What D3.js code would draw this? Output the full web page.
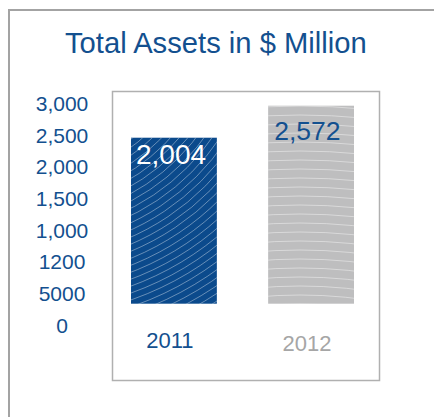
<!DOCTYPE html>
<html>
<head>
<meta charset="utf-8">
<script src="https://cdn.jsdelivr.net/npm/d3@7/dist/d3.min.js"></script>
<style>
  html, body { margin: 0; padding: 0; background: #fff; }
  svg { display: block; font-family: "Liberation Sans", Arial, sans-serif; }
</style>
</head>
<body>
<script>
// Chart data
const years = ["2011", "2012"];
const assets = [2004, 2572];
const assetLabels = ["2,004", "2,572"];
const tickLabels = ["3,000", "2,500", "2,000", "1,500", "1,000", "1200", "5000", "0"];
const title = "Total Assets in $ Million";

const W = 434, H = 417;
const blue = "#0b4a8c", textBlue = "#13508f", grey = "#bebebf", greyText = "#a6a6a6";

const svg = d3.select("body").append("svg").attr("width", W).attr("height", H);

// outer panel frame (top and left edges)
svg.append("path")
  .attr("d", `M9,${H} V10 H${W}`)
  .attr("fill", "none").attr("stroke", "#a3a3a3").attr("stroke-width", 2);

// title
svg.append("text")
  .attr("x", 65).attr("y", 53.3)
  .attr("fill", textBlue).attr("font-size", 29.2)
  .text(title);

// value-axis tick labels, evenly stacked
const tickY = d3.scalePoint().domain(tickLabels).range([111, 332.8]);
svg.append("g").selectAll("text").data(tickLabels).join("text")
  .attr("x", 62).attr("y", d => tickY(d))
  .attr("text-anchor", "middle")
  .attr("fill", textBlue).attr("font-size", 21)
  .text(d => d);

// inner plot box
svg.append("rect")
  .attr("x", 112.5).attr("y", 91.5).attr("width", 267).attr("height", 289)
  .attr("fill", "none").attr("stroke", "#b0b0b0").attr("stroke-width", 1.5);

// bar scales
const x = d3.scaleBand().domain(years).range([131, 354]).paddingInner(0.374).paddingOuter(0);
const y = d3.scaleLinear().domain([-942.5, 3000]).range([303.7, 81.6]);

const colors = [blue, grey];
const defs = svg.append("defs");

years.forEach((yr, i) => {
  const bx = x(yr), bw = x.bandwidth(), top = y(assets[i]), bottom = y.range()[0];
  const clipId = "clip" + yr;
  defs.append("clipPath").attr("id", clipId)
    .append("rect").attr("x", bx).attr("y", top).attr("width", bw).attr("height", bottom - top);

  const g = svg.append("g");
  g.append("rect")
    .attr("x", bx).attr("y", top).attr("width", bw).attr("height", bottom - top)
    .attr("fill", colors[i]);

  // curved line texture across the bar
  const lines = g.append("g").attr("clip-path", `url(#${clipId})`);
  let cx, cy, step, r0, r1, stroke;
  if (i === 0) { cx = 30; cy = 10; step = 6.5; r0 = 60; r1 = 460; stroke = "rgba(255,255,255,0.38)"; }
  else { cx = 300; cy = 760; step = 9; r0 = 420; r1 = 700; stroke = "rgba(255,255,255,0.42)"; }
  lines.selectAll("circle").data(d3.range(r0, r1, step)).join("circle")
    .attr("cx", cx).attr("cy", cy).attr("r", d => d)
    .attr("fill", "none").attr("stroke", stroke).attr("stroke-width", 1);

  // value label inside the bar
  svg.append("text")
    .attr("x", bx + (i === 0 ? 5 : 6)).attr("y", top + (i === 0 ? 26.6 : 34.3))
    .attr("fill", i === 0 ? "#ffffff" : textBlue)
    .attr("font-size", i === 0 ? 28 : 26.5)
    .text(assetLabels[i]);

  // year label
  svg.append("text")
    .attr("x", bx + bw / 2 - 4).attr("y", i === 0 ? 348.3 : 350.7)
    .attr("text-anchor", "middle")
    .attr("fill", i === 0 ? textBlue : greyText)
    .attr("font-size", 22)
    .text(yr);
});
</script>
</body>
</html>
